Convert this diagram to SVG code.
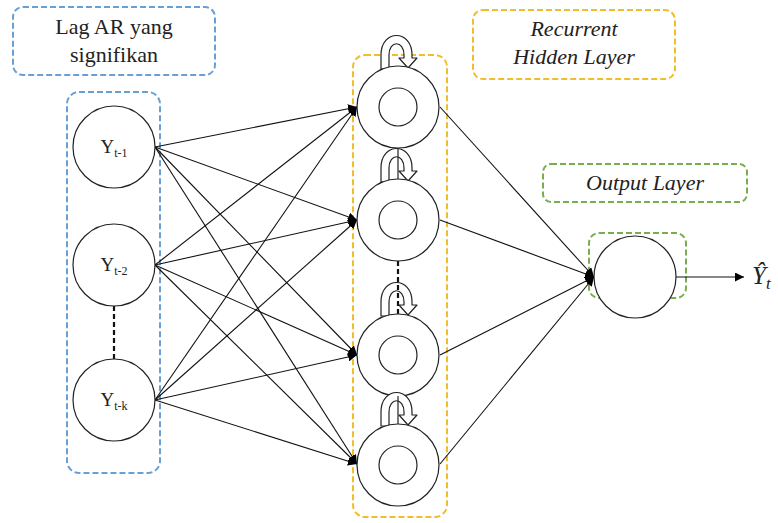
<svg xmlns="http://www.w3.org/2000/svg" width="778" height="523" viewBox="0 0 778 523">
  <style>
    .box-blue { fill: none; stroke: #6a9fd3; stroke-width: 2; stroke-dasharray: 6 3; }
    .box-yellow { fill: none; stroke: #f2bd2a; stroke-width: 2; stroke-dasharray: 6 3; }
    .box-green { fill: none; stroke: #78ad4f; stroke-width: 2; stroke-dasharray: 6 3; }
    .node { fill: #fff; stroke: #222; stroke-width: 1.2; }
    .edge { stroke: #111; stroke-width: 1.1; fill: none; }
    .loop { fill: #fff; stroke: #222; stroke-width: 1.2; stroke-linejoin: round; }
    text { font-family: 'Liberation Serif', 'DejaVu Serif', serif; fill: #222; }
    .title { font-size: 22px; text-anchor: middle; }
    .ital { font-style: italic; }
    .sym { font-size: 19px; text-anchor: middle; }
  </style>
  <defs>
    <marker id="arrow" viewBox="0 0 10 10" refX="10" refY="5" markerWidth="9" markerHeight="9" markerUnits="userSpaceOnUse" orient="auto">
      <path d="M0,0 L10,5 L0,10 z" fill="#000"/>
    </marker>
    <!-- self-loop drawn as a curved down-arrow outline, origin at the circle's top centre -->
    <path id="selfloop" d="M-17,2 L-17,-12 C-17,-38 14,-38 14,-12 L14,-9 L19,-9 L10,1 L1,-9 L6,-9 L6,-12 C6,-27 -9,-27 -9,-12 L-9,2 Z"/>
  </defs>

  <!-- layer captions -->
  <g id="caption-input">
    <rect class="box-blue" x="13" y="7" width="202" height="68" rx="10"/>
    <text class="title" x="114" y="34">Lag AR yang</text>
    <text class="title" x="114" y="62">signifikan</text>
  </g>
  <g id="caption-hidden">
    <rect class="box-yellow" x="473" y="10" width="202" height="69" rx="10"/>
    <text class="title ital" x="574" y="36">Recurrent</text>
    <text class="title ital" x="574" y="64">Hidden Layer</text>
  </g>
  <g id="caption-output">
    <rect class="box-green" x="543" y="164" width="204" height="38" rx="8"/>
    <text class="title ital" x="645" y="190">Output Layer</text>
  </g>

  <!-- layer frames -->
  <rect class="box-blue" x="67" y="92" width="93" height="381" rx="12"/>
  <rect class="box-yellow" x="353" y="55" width="94" height="462" rx="12"/>
  <rect class="box-green" x="589" y="233" width="97" height="65" rx="10"/>

  <!-- connectors -->
  <g id="connectors">
    <!-- input to hidden -->
    <line class="edge" x1="155" y1="147" x2="357" y2="107" marker-end="url(#arrow)"/>
    <line class="edge" x1="155" y1="147" x2="357" y2="220" marker-end="url(#arrow)"/>
    <line class="edge" x1="155" y1="147" x2="357" y2="355" marker-end="url(#arrow)"/>
    <line class="edge" x1="155" y1="147" x2="357" y2="464" marker-end="url(#arrow)"/>
    <line class="edge" x1="155" y1="265" x2="357" y2="107" marker-end="url(#arrow)"/>
    <line class="edge" x1="155" y1="265" x2="357" y2="220" marker-end="url(#arrow)"/>
    <line class="edge" x1="155" y1="265" x2="357" y2="355" marker-end="url(#arrow)"/>
    <line class="edge" x1="155" y1="265" x2="357" y2="464" marker-end="url(#arrow)"/>
    <line class="edge" x1="155" y1="400" x2="357" y2="107" marker-end="url(#arrow)"/>
    <line class="edge" x1="155" y1="400" x2="357" y2="220" marker-end="url(#arrow)"/>
    <line class="edge" x1="155" y1="400" x2="357" y2="355" marker-end="url(#arrow)"/>
    <line class="edge" x1="155" y1="400" x2="357" y2="464" marker-end="url(#arrow)"/>
    <!-- hidden to output -->
    <line class="edge" x1="440" y1="107" x2="594" y2="277" marker-end="url(#arrow)"/>
    <line class="edge" x1="440" y1="220" x2="594" y2="277" marker-end="url(#arrow)"/>
    <line class="edge" x1="440" y1="355" x2="594" y2="277" marker-end="url(#arrow)"/>
    <line class="edge" x1="440" y1="464" x2="594" y2="277" marker-end="url(#arrow)"/>
    <!-- output -->
    <line class="edge" x1="676" y1="277" x2="744" y2="277" marker-end="url(#arrow)"/>
    <!-- ellipsis between inputs -->
    <line x1="114" y1="306" x2="114" y2="359" stroke="#111" stroke-width="2.2" stroke-dasharray="5 3"/>
  </g>

  <!-- input nodes -->
  <g id="input-1">
    <circle class="node" cx="114" cy="147" r="41"/>
    <text class="sym" x="114" y="153">Y<tspan font-size="12" dy="4">t-1</tspan></text>
  </g>
  <g id="input-2">
    <circle class="node" cx="114" cy="265" r="41"/>
    <text class="sym" x="114" y="271">Y<tspan font-size="12" dy="4">t-2</tspan></text>
  </g>
  <g id="input-k">
    <circle class="node" cx="114" cy="400" r="41"/>
    <text class="sym" x="114" y="406">Y<tspan font-size="12" dy="4">t-k</tspan></text>
  </g>

  <!-- hidden recurrent nodes -->
  <g id="hidden-1">
    <use href="#selfloop" class="loop" transform="translate(398,67)"/>
    <circle class="node" cx="398" cy="107" r="41"/>
    <circle class="node" cx="398" cy="107" r="19"/>
  </g>
  <g id="hidden-2">
    <use href="#selfloop" class="loop" transform="translate(398,180)"/>
    <line x1="398" y1="148" x2="398" y2="180" stroke="#222" stroke-width="1.2"/>
    <circle class="node" cx="398" cy="220" r="41"/>
    <circle class="node" cx="398" cy="220" r="19"/>
  </g>
  <g id="hidden-3">
    <use href="#selfloop" class="loop" transform="translate(398,314)"/>
    <line x1="398" y1="261" x2="398" y2="314" stroke="#111" stroke-width="2.2" stroke-dasharray="5 3"/>
    <circle class="node" cx="398" cy="355" r="41"/>
    <circle class="node" cx="398" cy="355" r="19"/>
  </g>
  <g id="hidden-4">
    <use href="#selfloop" class="loop" transform="translate(398,424)"/>
    <line x1="398" y1="396" x2="398" y2="424" stroke="#222" stroke-width="1.2"/>
    <circle class="node" cx="398" cy="465" r="41"/>
    <circle class="node" cx="398" cy="465" r="19"/>
  </g>

  <!-- output node -->
  <g id="output">
    <circle class="node" cx="635" cy="277" r="41"/>
  </g>
  <g id="output-label">
    <text class="ital" x="752" y="284" font-size="25">Ŷ<tspan font-size="17" dy="5">t</tspan></text>
  </g>
</svg>
